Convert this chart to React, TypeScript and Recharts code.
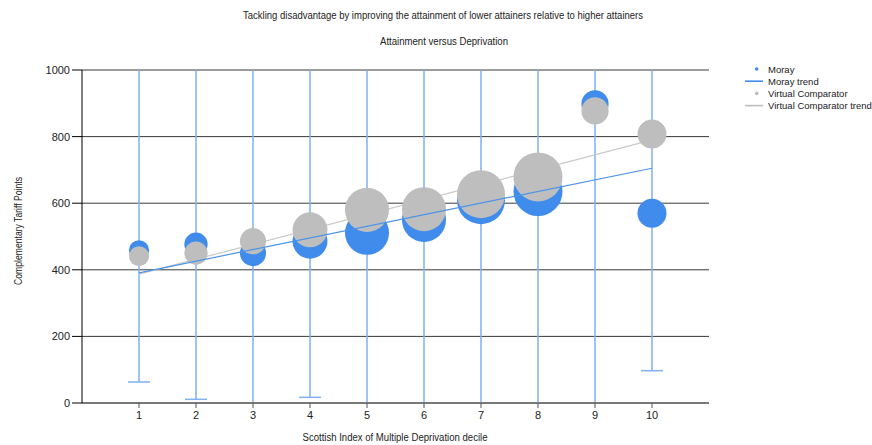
import React from 'react';
import { ScatterChart, Scatter, XAxis, YAxis, ZAxis, CartesianGrid, ErrorBar } from 'recharts';

const deciles = [1, 2, 3, 4, 5, 6, 7, 8, 9, 10];
const morayValues = [459, 477, 450, 486, 511, 550, 609, 635, 898, 570];
const comparatorValues = [441, 450, 486, 520, 580, 582, 627, 679, 877, 808];
const pupilCounts = [20, 27, 34, 61, 97, 97, 115, 120, 37, 42];
const morayLower = [63, 11, -40, 17, -60, -60, -50, -40, -20, 97];
const morayUpper = [1080, 1100, 1120, 1080, 1060, 1100, 1150, 1200, 1300, 1050];
const trendX = [1, 10];
const morayTrend = [391, 705];
const comparatorTrend = [387, 790];
const yTicks = [0, 200, 400, 600, 800, 1000];
const seriesNames = ['Moray', 'Moray trend', 'Virtual Comparator', 'Virtual Comparator trend'];
const titleText = 'Tackling disadvantage by improving the attainment of lower attainers relative to higher attainers';
const subtitleText = 'Attainment versus Deprivation';
const xLabel = 'Scottish Index of Multiple Deprivation decile';
const yLabel = 'Complementary Tariff Points';

const BLUE = '#3f8cec';
const GRAY = '#bebebe';
const ERR = '#7eb0f2';
const FONT = '"Liberation Sans", Arial, sans-serif';

const morayData = deciles.map((d, i) => ({ x: d, y: morayValues[i], z: pupilCounts[i], err: [morayValues[i] - morayLower[i], morayUpper[i] - morayValues[i]] }));
const comparatorData = deciles.map((d, i) => ({ x: d, y: comparatorValues[i], z: pupilCounts[i] }));
const morayTrendData = trendX.map((x, i) => ({ x, y: morayTrend[i] }));
const comparatorTrendData = trendX.map((x, i) => ({ x, y: comparatorTrend[i] }));

const Empty = () => <g />;

const legendItems = [
  { name: seriesNames[0], kind: 'dot', color: BLUE },
  { name: seriesNames[1], kind: 'line', color: BLUE },
  { name: seriesNames[2], kind: 'dot', color: GRAY },
  { name: seriesNames[3], kind: 'line', color: GRAY },
];

const PLOT = { left: 82, top: 70, width: 627, height: 333 };

export default function App() {
  return (
    <div style={{ position: 'absolute', left: 0, top: 0, width: 872, height: 445, background: '#fff' }}>
      <style>{`.recharts-errorBar, .recharts-errorBars, [class*="errorBar"] { clip-path: url(#plotAreaClip); }`}</style>
      <svg width={0} height={0} style={{ position: 'absolute', left: 0, top: 0 }}>
        <defs>
          <clipPath id="plotAreaClip" clipPathUnits="userSpaceOnUse">
            <rect x={PLOT.left} y={PLOT.top} width={PLOT.width} height={PLOT.height} />
          </clipPath>
        </defs>
      </svg>
      <ScatterChart width={872} height={445} margin={{ top: 70, right: 163, bottom: 12, left: 0 }}>
        <CartesianGrid vertical={false} stroke="#3a3a3a" strokeWidth={1} />
        <XAxis
          dataKey="x"
          type="number"
          domain={[0, 11]}
          ticks={deciles}
          allowDataOverflow
          height={30}
          tickSize={5}
          tickMargin={3}
          stroke="#555"
          tick={{ fill: '#222', fontSize: 11, fontFamily: FONT }}
        />
        <YAxis
          dataKey="y"
          type="number"
          domain={[0, 1000]}
          ticks={yTicks}
          allowDataOverflow
          width={82}
          tickSize={10}
          stroke="#000"
          tick={{ fill: '#222', fontSize: 11, fontFamily: FONT }}
        />
        <ZAxis dataKey="z" type="number" domain={[0, 120]} range={[0, 1886]} />
        <Scatter name="Moray" data={morayData} fill={BLUE} isAnimationActive={false} />
        <Scatter
          name="Virtual Comparator trend"
          data={comparatorTrendData}
          fill={GRAY}
          shape={Empty}
          line={{ stroke: '#c9c9c9', strokeWidth: 1.2 }}
          lineType="joint"
          isAnimationActive={false}
        />
        <Scatter name="Virtual Comparator" data={comparatorData} fill={GRAY} isAnimationActive={false} />
        <Scatter
          name="Moray trend"
          data={morayTrendData}
          fill={BLUE}
          shape={Empty}
          line={{ stroke: '#4b93ea', strokeWidth: 1.2 }}
          lineType="joint"
          isAnimationActive={false}
        />
        <Scatter name="Moray range" data={morayData} fill={BLUE} shape={Empty} isAnimationActive={false}>
          <ErrorBar dataKey="err" direction="y" width={11} stroke={ERR} strokeWidth={1.5} isAnimationActive={false} />
        </Scatter>
      </ScatterChart>
      <svg width={872} height={445} style={{ position: 'absolute', left: 0, top: 0, pointerEvents: 'none' }}>
        <g fontFamily={FONT} fill="#222">
          <text x={443} y={18.5} fontSize={10} textAnchor="middle" textLength={400} lengthAdjust="spacingAndGlyphs">{titleText}</text>
          <text x={444} y={44.5} fontSize={10} textAnchor="middle" textLength={128} lengthAdjust="spacingAndGlyphs">{subtitleText}</text>
          <text x={395} y={440.5} fontSize={10} textAnchor="middle" textLength={185} lengthAdjust="spacingAndGlyphs">{xLabel}</text>
          <text x={21.5} y={231} fontSize={10} textAnchor="middle" transform="rotate(-90 21.5 231)" textLength={108} lengthAdjust="spacingAndGlyphs">{yLabel}</text>
          {legendItems.map((it, i) => {
            const cy = 69 + i * 12.2;
            return (
              <g key={it.name}>
                {it.kind === 'dot' ? (
                  <circle cx={756.7} cy={cy} r={1.8} fill={it.color} />
                ) : (
                  <line x1={745} x2={763} y1={cy} y2={cy} stroke={it.color} strokeWidth={1.6} />
                )}
                <text x={768} y={cy + 3.6} fontSize={9.5}>{it.name}</text>
              </g>
            );
          })}
        </g>
      </svg>
    </div>
  );
}
